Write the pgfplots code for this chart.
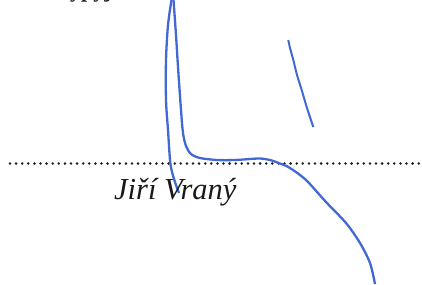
\documentclass[border=0pt]{standalone}
\usepackage{pgfplots}
\pgfplotsset{compat=1.18}
\usepackage{fontspec}
\setmainfont{Liberation Serif}
\definecolor{ink}{RGB}{66,104,214}
\definecolor{dots}{RGB}{30,30,30}
\begin{document}
\begin{tikzpicture}
\begin{axis}[
  scale only axis, width=422pt, height=284pt,
  xmin=0, xmax=422, ymin=0, ymax=284, y dir=reverse,
  hide axis, clip=true,
]
% dotted signature line
\addplot[dots, line width=2.8pt, line cap=round, dash pattern=on 0pt off 6.1pt] coordinates {(10,163.5) (422,163.5)};
% long stroke: lower-left end up to the top, then down and right
\addplot[ink, line width=2.3pt, smooth, tension=0.5] coordinates {
 (179,193) (176,185) (172,172) (170,160) (168,130) (166,100) (166,60) (168,25) (171.5,0)};
\addplot[ink, line width=2.3pt, smooth, tension=0.5] coordinates {
 (173.5,0) (176,35) (178,67) (181,110) (183,133) (186,146) (191,154) (200,158) (217,160)
 (235,160) (250,159) (260,158.5) (270,160) (280,163.5) (290,168) (306,180) (326,202)
 (346,223) (360,243) (370,263) (375,284)};
% short stroke
\addplot[ink, line width=2pt, smooth, tension=0.5] coordinates {
 (288.3,40) (290,48) (293.3,60) (297,75) (301.7,90) (307,108) (313.3,127)};
\node[anchor=base west, font=\fontsize{30.5}{32}\selectfont\itshape, text=black!90, inner sep=0pt] at (axis cs:114,199) {Jiří Vraný};
\node[anchor=base west, font=\fontsize{22}{24}\selectfont\bfseries, text=black!90, inner sep=0pt] at (axis cs:56,-3) {Vypyje};
\end{axis}
\pgfresetboundingbox
\path[use as bounding box] (current axis.south west) rectangle (current axis.north east);
\end{tikzpicture}
\end{document}
